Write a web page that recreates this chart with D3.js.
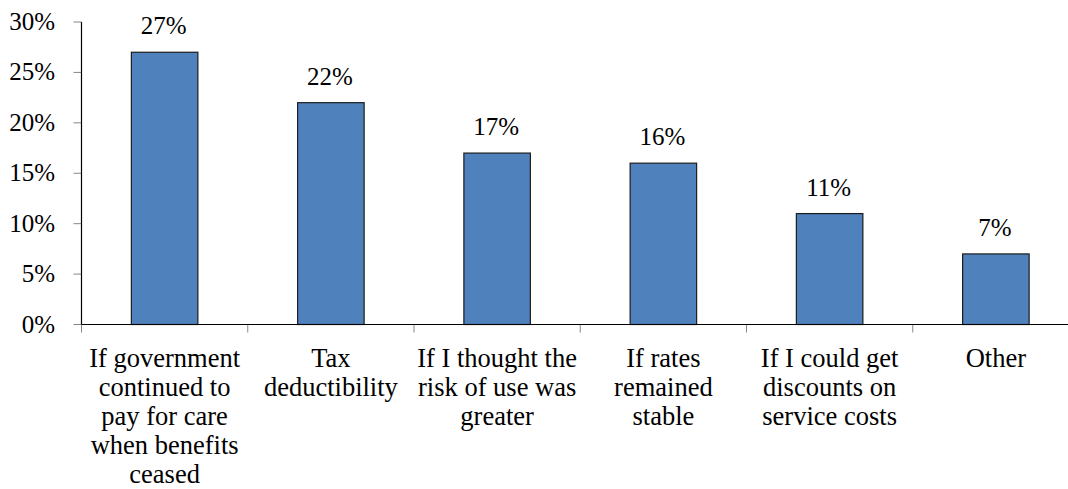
<!DOCTYPE html>
<html>
<head>
<meta charset="utf-8">
<script src="https://cdn.jsdelivr.net/npm/d3@7"></script>
</head>
<body style="margin:0">
<script>
// Data
const categories = [
    'If government continued to pay for care when benefits ceased',
    'Tax deductibility',
    'If I thought the risk of use was greater',
    'If rates remained stable',
    'If I could get discounts on service costs',
    'Other'
];
const categoryLines = [
    ['If government', 'continued to', 'pay for care', 'when benefits', 'ceased'],
    ['Tax', 'deductibility'],
    ['If I thought the', 'risk of use was', 'greater'],
    ['If rates', 'remained', 'stable'],
    ['If I could get', 'discounts on', 'service costs'],
    ['Other']
];
const values = [27, 22, 17, 16, 11, 7];
const yTicks = [0, 5, 10, 15, 20, 25, 30];

const WIDTH = 1068, HEIGHT = 489;
const MARGIN = { top: 22, left: 81.5, bottom: 164.5, right: -11 };
const NUM_FONT = 25;
const CAT_FONT = 26.5;
const SERIF = 'Liberation Serif';

const svg = d3.select('body').append('svg')
    .attr('width', WIDTH)
    .attr('height', HEIGHT)
    .attr('font-family', SERIF);

const x = d3.scaleBand()
    .domain(categories)
    .range([MARGIN.left, WIDTH - MARGIN.right])
    .paddingInner(0.6)
    .paddingOuter(0.3);

const y = d3.scaleLinear()
    .domain([0, 30])
    .range([HEIGHT - MARGIN.bottom, MARGIN.top]);

const step = x.step();
const x0 = x.range()[0];

// y axis ticks + labels
svg.append('g').selectAll('line')
    .data(yTicks)
    .enter().append('line')
    .attr('x1', MARGIN.left - 8)
    .attr('x2', MARGIN.left)
    .attr('y1', d => y(d))
    .attr('y2', d => y(d))
    .attr('stroke', '#868686');

svg.append('g').selectAll('text')
    .data(yTicks)
    .enter().append('text')
    .attr('x', 55)
    .attr('y', d => y(d) + 8)
    .attr('text-anchor', 'end')
    .attr('font-family', SERIF)
    .attr('font-size', NUM_FONT)
    .text(d => d + '%');

// x ticks at band boundaries
svg.append('g').selectAll('line')
    .data(d3.range(categories.length + 1))
    .enter().append('line')
    .attr('x1', i => x0 + i * step)
    .attr('x2', i => x0 + i * step)
    .attr('y1', y(0))
    .attr('y2', y(0) + 8)
    .attr('stroke', '#868686');

// bars
svg.append('g').selectAll('rect')
    .data(values)
    .enter().append('rect')
    .attr('x', (d, i) => x(categories[i]))
    .attr('y', d => y(d))
    .attr('width', x.bandwidth())
    .attr('height', d => y(0) - y(d))
    .attr('fill', '#4F81BD')
    .attr('stroke', '#1c1c1c')
    .attr('stroke-width', 1.2);

// axis lines
svg.append('line')
    .attr('x1', MARGIN.left).attr('x2', MARGIN.left)
    .attr('y1', y(30)).attr('y2', y(0))
    .attr('stroke', '#000').attr('stroke-width', 1.2);
svg.append('line')
    .attr('x1', MARGIN.left).attr('x2', WIDTH - MARGIN.right)
    .attr('y1', y(0)).attr('y2', y(0))
    .attr('stroke', '#000').attr('stroke-width', 1.2);

// value labels
svg.append('g').selectAll('text')
    .data(values)
    .enter().append('text')
    .attr('x', (d, i) => x(categories[i]) + x.bandwidth() / 2 - 1)
    .attr('y', d => y(d) - 18)
    .attr('text-anchor', 'middle')
    .attr('font-family', SERIF)
    .attr('font-size', NUM_FONT)
    .text(d => d + '%');

// category labels, one text per line
categories.forEach((cat, i) => {
    svg.append('g').selectAll('text')
        .data(categoryLines[i])
        .enter().append('text')
        .attr('x', x(cat) + x.bandwidth() / 2)
        .attr('y', (d, j) => y(0) + 42 + j * 29.2)
        .attr('text-anchor', 'middle')
        .attr('font-family', SERIF)
        .attr('font-size', CAT_FONT)
        .text(d => d);
});
</script>
</body>
</html>
